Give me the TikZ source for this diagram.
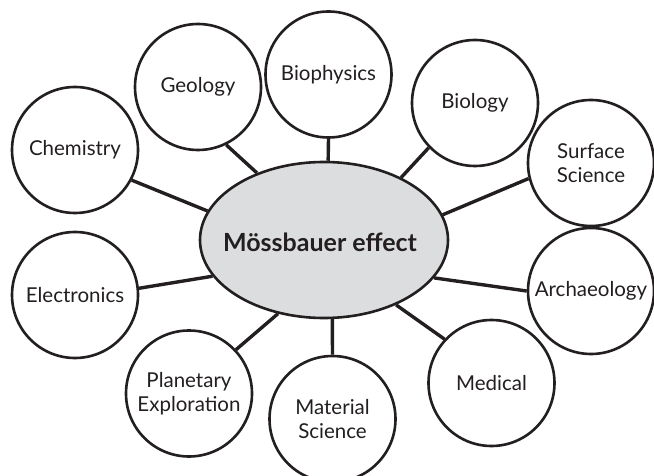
\documentclass[tikz,border=0pt]{standalone}
\usepackage{fontspec}
\setmainfont{Lato}
\usetikzlibrary{shapes.geometric}
\definecolor{ink}{HTML}{231F20}
\definecolor{hub}{HTML}{DCDDDE}
\tikzset{
  topic/.style={circle,draw=ink,line width=2.6pt,fill=white,minimum size=126pt,inner sep=0pt,
    align=center,text=ink,font=\fontsize{20.5}{24}\selectfont},
  hubnode/.style={ellipse,draw=ink,line width=2.6pt,fill=hub,minimum width=248pt,minimum height=156pt,
    inner sep=0pt,text=ink},
  hubtext/.style={inner sep=0pt,text=ink,font=\bfseries\fontsize{25}{29}\selectfont},
  link/.style={draw=ink,line width=3.4pt}
}
\begin{document}
\begin{tikzpicture}[x=1pt,y=-1pt]
\useasboundingbox (0,0) rectangle (654,476);
\clip (0,0) rectangle (654,476);
\fill[white] (0,0) rectangle (654,476);
\node[hubnode] (m) at (324,240) {};
\node[hubtext] (mt) at (320,242) {M\"ossbauer effect};
\node[topic] (geo) at (198,87) {Geology};
\node[topic] (bph) at (328.5,74.5) {Biophysics};
\node[topic] (bio) at (475,103) {Biology};
\node[topic] (sur) at (591,163) {Surface\\Science};
\node[topic] (che) at (75,150) {Chemistry};
\node[topic] (ele) at (75,295) {Electronics};
\node[topic] (pla) at (189,393.5) {Planetary\\Exploration};
\node[topic] (mat) at (332.5,419) {Material\\Science};
\node[topic] (med) at (491.5,383) {Medical};
\node[topic] (arc) at (591,291) {Archaeology};
\draw[link] (geo.-64) -- (m.135);
\draw[link] (bph.-90) -- (m.87);
\draw[link] (bio.224) -- (m.39.7);
\draw[link] (sur.194) -- (m.12);
\draw[link] (che.-28) -- (m.166);
\draw[link] (ele.6) -- (m.198.7);
\draw[link] (pla.43) -- (m.238.5);
\draw[link] (mat.90) -- (m.276);
\draw[link] (med.137) -- (m.318);
\draw[link] (arc.180) -- (m.341.6);
\end{tikzpicture}
\end{document}
